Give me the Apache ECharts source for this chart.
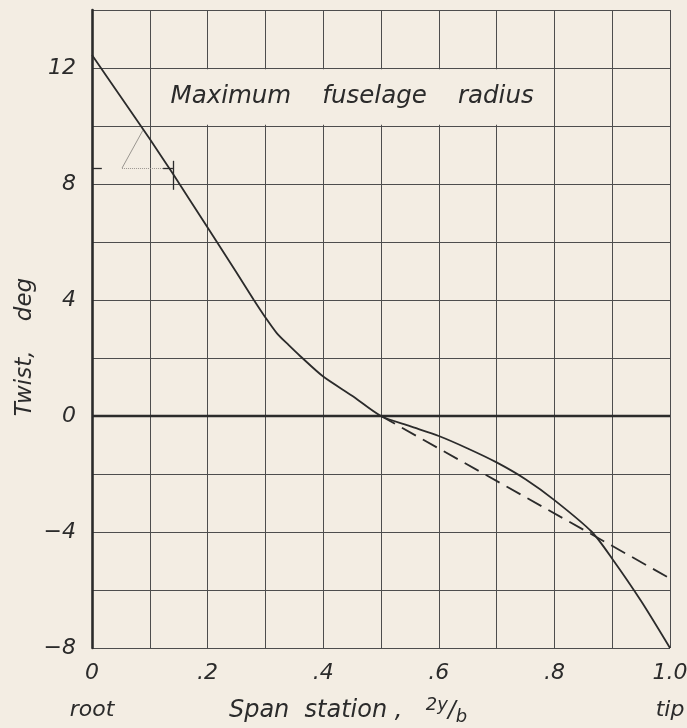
<!DOCTYPE html>
<html><head><meta charset="utf-8">
<script src="https://cdn.jsdelivr.net/npm/echarts@6/dist/echarts.min.js"></script>
<style>html,body{margin:0;padding:0;background:#f3ede3}#c{width:687px;height:728px}</style>
</head><body><div id="c"></div>
<script>
// Span station 2y/b and twist (deg), solid curve
const spanStation = [0, 0.05, 0.1, 0.14, 0.2, 0.25, 0.28, 0.3, 0.32, 0.34, 0.36, 0.4, 0.45, 0.5, 0.55, 0.6, 0.65, 0.7, 0.75, 0.8, 0.865, 0.9, 0.95, 1.0];
const twistSolid  = [12.45, 11.0, 9.55, 8.35, 6.5, 4.95, 4.0, 3.4, 2.85, 2.45, 2.07, 1.36, 0.7, 0, -0.35, -0.69, -1.12, -1.6, -2.18, -2.9, -4.0, -4.92, -6.38, -8.0];
// dashed (linear) curve
const dashedStation = [0.5, 1.0];
const twistDashed  = [0, -5.6];
// tick labels
const xTickLabels = {0: '0', 2: '.2', 4: '.4', 6: '.6', 8: '.8', 10: '1.0'};
const xEndNames = {0: 'root', 10: 'tip'};
const yTickLabels = [-8, -4, 0, 4, 8, 12];
const titleText = 'Maximum    fuselage    radius';
const xAxisTitle = ['Span  station ,', '2y', '/', 'b'];
const yAxisTitle = 'Twist,    deg';
// small pencil annotation marks near x=0.14
const annotDark = [[[0, 8.55], [0.017, 8.55]], [[0.14, 7.8], [0.14, 8.8]], [[0.123, 8.55], [0.14, 8.55]]];
const annotFaint = [[[0.052, 8.55], [0.088, 9.85]], [[0.052, 8.55], [0.123, 8.55]]];

const INK = '#2b2b2b';
const GRIDC = '#4d4d4d';
const BG = '#f3ede3';
const FONT = 'DejaVu Sans';

const solidData = spanStation.map((x, i) => [x, twistSolid[i]]);
const dashData = dashedStation.map((x, i) => [x, twistDashed[i]]);

const markLineData = [];
annotDark.forEach(seg => markLineData.push([
  {coord: seg[0], lineStyle: {color: INK, width: 1.3, type: 'solid'}},
  {coord: seg[1]}
]));
annotFaint.forEach((seg, k) => markLineData.push([
  {coord: seg[0], lineStyle: {color: '#9a9690', width: 1, type: k === 1 ? 'dotted' : 'solid'}},
  {coord: seg[1]}
]));
markLineData.push({yAxis: 0, lineStyle: {color: INK, width: 2.4, type: 'solid'}});

const chart = echarts.init(document.getElementById('c'), null, {renderer: 'canvas'});
chart.setOption({
  backgroundColor: BG,
  animation: false,
  grid: {left: 92, right: 17, top: 10, bottom: 80, containLabel: false, outerBoundsMode: 'none'},
  xAxis: {
    type: 'value', min: 0, max: 1, interval: 0.1,
    axisLine: {show: false}, axisTick: {show: false},
    splitLine: {show: true, lineStyle: {color: GRIDC, width: 1}},
    axisLabel: {
      margin: 11, hideOverlap: false,
      formatter: v => {
        const k = Math.round(v * 10);
        if (!(k in xTickLabels)) return '';
        let s = '{n|' + xTickLabels[k] + '}';
        if (k in xEndNames) s += '\n{r|' + xEndNames[k] + '}';
        return s;
      },
      rich: {
        n: {fontFamily: FONT, fontStyle: 'italic', fontSize: 22, color: INK, lineHeight: 28},
        r: {fontFamily: FONT, fontStyle: 'italic', fontSize: 22, color: INK, lineHeight: 46}
      }
    },
    name: '{a|' + xAxisTitle[0] + '}       {f|' + xAxisTitle[1] + '}{s|' + xAxisTitle[2] + '}{b|' + xAxisTitle[3] + '}',
    nameLocation: 'middle', nameGap: 48, nameMoveOverlap: false,
    nameTextStyle: {
      padding: [0, 66, 0, 0],
      rich: {
        a: {fontFamily: FONT, fontStyle: 'italic', fontSize: 24, color: INK, lineHeight: 30},
        f: {fontFamily: FONT, fontStyle: 'italic', fontSize: 18, color: INK, verticalAlign: 'top', lineHeight: 30},
        s: {fontFamily: FONT, fontStyle: 'italic', fontSize: 23, color: INK, lineHeight: 30},
        b: {fontFamily: FONT, fontStyle: 'italic', fontSize: 18, color: INK, verticalAlign: 'bottom', lineHeight: 30}
      }
    }
  },
  yAxis: {
    type: 'value', min: -8, max: 14, interval: 2,
    axisLine: {show: true, lineStyle: {color: INK, width: 2.6}},
    axisTick: {show: false},
    splitLine: {show: true, lineStyle: {color: GRIDC, width: 1}},
    axisLabel: {
      margin: 16, fontFamily: FONT, fontStyle: 'italic', fontSize: 22, color: INK,
      formatter: v => yTickLabels.indexOf(v) >= 0 ? String(v).replace('-', '\u2212') : ''
    },
    name: yAxisTitle, nameLocation: 'middle', nameGap: 55, nameMoveOverlap: false,
    nameTextStyle: {fontFamily: FONT, fontStyle: 'italic', fontSize: 23, color: INK, padding: [0, 36, 0, 0]}
  },
  series: [
    {
      type: 'line', data: solidData, smooth: 0.25, symbol: 'none',
      lineStyle: {color: INK, width: 1.8}, z: 5,
      markArea: {
        silent: true,
        itemStyle: {color: BG, opacity: 1},
        label: {show: true, position: 'inside', formatter: titleText,
          fontFamily: FONT, fontStyle: 'italic', fontSize: 24.5, color: INK},
        data: [[{coord: [0.103, 11.96]}, {coord: [0.797, 10.04]}]]
      },
      markLine: {
        silent: true, symbol: 'none', label: {show: false},
        data: markLineData
      }
    },
    {
      type: 'line', data: dashData, symbol: 'none',
      lineStyle: {color: INK, width: 1.8, type: [16, 8]}, z: 5
    }
  ]
});
</script></body></html>
